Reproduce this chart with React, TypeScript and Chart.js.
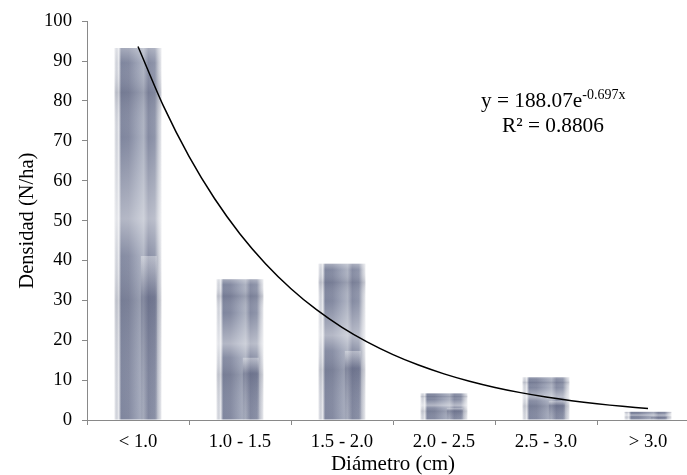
import React, { useEffect, useRef } from "react";
import { Chart, registerables } from "chart.js";

Chart.register(...registerables);

const CATEGORIES = ["< 1.0", "1.0 - 1.5", "1.5 - 2.0", "2.0 - 2.5", "2.5 - 3.0", "> 3.0"];
const DENSITY = [93.3, 35.3, 39.2, 6.7, 10.7, 2.1];
const Y_TICKS = [0, 10, 20, 30, 40, 50, 60, 70, 80, 90, 100];
const TREND_A = 188.07;
const TREND_B = -0.697;
const TREND_R2 = 0.8806;
const TREND_X = [1, 1.25, 1.5, 1.75, 2, 2.25, 2.5, 2.75, 3, 3.25, 3.5, 3.75, 4, 4.25, 4.5, 4.75, 5, 5.25, 5.5, 5.75, 6];

const SERIF = '"Liberation Serif", "Times New Roman", serif';
const BAR_PCT = 0.46;

function barFill(ctx: any) {
  const chart = ctx.chart;
  const xs = chart.scales && chart.scales.x;
  if (!xs || ctx.dataIndex === undefined || !chart.chartArea) return "#9aa0b4";
  const cx = xs.getPixelForValue(ctx.dataIndex);
  const half = ((xs.right - xs.left) / CATEGORIES.length) * BAR_PCT / 2;
  const g = chart.ctx.createLinearGradient(cx - half, 0, cx + half, 0);
  g.addColorStop(0.0, "#e4e5ea");
  g.addColorStop(0.05, "#cdd0d8");
  g.addColorStop(0.09, "#e9eaee");
  g.addColorStop(0.14, "#7f869e");
  g.addColorStop(0.3, "#848aa1");
  g.addColorStop(0.5, "#9ea4b7");
  g.addColorStop(0.62, "#aeb3c2");
  g.addColorStop(0.72, "#858ba2");
  g.addColorStop(0.86, "#8f95aa");
  g.addColorStop(0.93, "#c3c6d0");
  g.addColorStop(1.0, "#e9eaee");
  return g;
}

const barOverlay = {
  id: "barOverlay",
  afterDatasetDraw(chart: any, args: any) {
    const meta = chart.getDatasetMeta(args.index);
    if (meta.type !== "bar") return;
    const c = chart.ctx;
    c.save();
    meta.data.forEach((el: any) => {
      const { x, y, base, width } = el.getProps(["x", "y", "base", "width"], true);
      const left = x - width / 2;
      const h = base - y;
      const g = c.createLinearGradient(0, y, 0, base);
      g.addColorStop(0, "rgba(255,255,255,0.3)");
      g.addColorStop(0.04, "rgba(255,255,255,0)");
      g.addColorStop(0.12, "rgba(50,55,85,0.15)");
      g.addColorStop(0.24, "rgba(255,255,255,0)");
      g.addColorStop(0.46, "rgba(255,255,255,0.4)");
      g.addColorStop(0.56, "rgba(255,255,255,0.05)");
      g.addColorStop(0.68, "rgba(40,45,70,0.1)");
      g.addColorStop(1, "rgba(255,255,255,0)");
      c.fillStyle = g;
      c.fillRect(left, y, width, h);
      const ry = y + h * 0.56;
      const g2 = c.createLinearGradient(0, ry, 0, base);
      g2.addColorStop(0, "rgba(255,255,255,0.35)");
      g2.addColorStop(0.25, "rgba(80,86,118,0.35)");
      g2.addColorStop(1, "rgba(110,116,142,0.15)");
      c.fillStyle = g2;
      c.fillRect(left + width * 0.56, ry, width * 0.34, base - ry);
    });
    c.restore();
  },
};

const equationLabel = {
  id: "equationLabel",
  afterDraw(chart: any) {
    const c = chart.ctx;
    c.save();
    c.fillStyle = "#000";
    c.textBaseline = "alphabetic";
    c.textAlign = "left";
    const main = "y = " + TREND_A.toFixed(2) + "e";
    const sup = TREND_B.toFixed(3) + "x";
    c.font = "21.3px " + SERIF;
    const x0 = 481;
    c.fillText(main, x0, 106.7);
    const w = c.measureText(main).width;
    c.font = "14px " + SERIF;
    c.fillText(sup, x0 + w, 98.5);
    c.font = "21.3px " + SERIF;
    c.textAlign = "center";
    c.fillText("R² = " + TREND_R2.toFixed(4), 553, 131.7);
    c.restore();
  },
};

export default function App() {
  const ref = useRef<HTMLCanvasElement | null>(null);
  useEffect(() => {
    if (!ref.current) return;
    const chart = new Chart(ref.current, {
      type: "bar",
      data: {
        labels: CATEGORIES,
        datasets: [
          {
            type: "line",
            label: "Tendencia",
            data: TREND_X.map((x) => ({ x, y: TREND_A * Math.exp(TREND_B * x) })),
            xAxisID: "xt",
            borderColor: "#000",
            borderWidth: 1.5,
            pointRadius: 0,
            tension: 0.3,
            fill: false,
            order: 0,
          } as any,
          {
            type: "bar",
            label: "Densidad",
            data: DENSITY,
            backgroundColor: barFill as any,
            borderWidth: 0,
            grouped: false,
            barPercentage: BAR_PCT,
            categoryPercentage: 1,
            order: 1,
          } as any,
        ],
      },
      options: {
        animation: false,
        responsive: true,
        maintainAspectRatio: false,
        layout: { padding: { left: 0, right: 13, top: 20, bottom: 0 } },
        plugins: { legend: { display: false }, tooltip: { enabled: false } },
        scales: {
          x: {
            type: "category",
            offset: true,
            grid: { display: true, drawOnChartArea: false, offset: true, tickLength: 5, color: "#898989", lineWidth: 1 },
            border: { color: "#898989", width: 1 },
            ticks: { color: "#000", font: { family: SERIF, size: 18.7 }, padding: 6, maxRotation: 0 },
            title: { display: true, text: "Diámetro (cm)", color: "#000", font: { family: SERIF, size: 21, lineHeight: 1 }, padding: { top: 0, bottom: 0 } },
            afterFit: (s: any) => { s.height = 55; },
          },
          xt: {
            type: "linear",
            display: false,
            offset: false,
            min: 0.5,
            max: 6.5,
          },
          y: {
            min: 0,
            max: 100,
            afterBuildTicks: (s: any) => { s.ticks = Y_TICKS.map((v) => ({ value: v })); },
            grid: { display: true, drawOnChartArea: false, tickLength: 5, color: "#898989", lineWidth: 1 },
            border: { color: "#898989", width: 1 },
            ticks: { color: "#000", font: { family: SERIF, size: 18.7 }, padding: 10 },
            title: { display: true, text: "Densidad (N/ha)", color: "#000", font: { family: SERIF, size: 20.5, lineHeight: 1 }, padding: { top: 17, bottom: 0 } },
            afterFit: (s: any) => { s.width = 87; },
          },
        },
      },
      plugins: [barOverlay, equationLabel],
    });
    return () => chart.destroy();
  }, []);
  return (
    <div style={{ position: "absolute", left: 0, top: 0, width: 687, height: 475, overflow: "hidden", background: "#fff" }}>
      <div style={{ position: "relative", width: 712, height: 475 }}>
        <canvas ref={ref} />
      </div>
    </div>
  );
}
